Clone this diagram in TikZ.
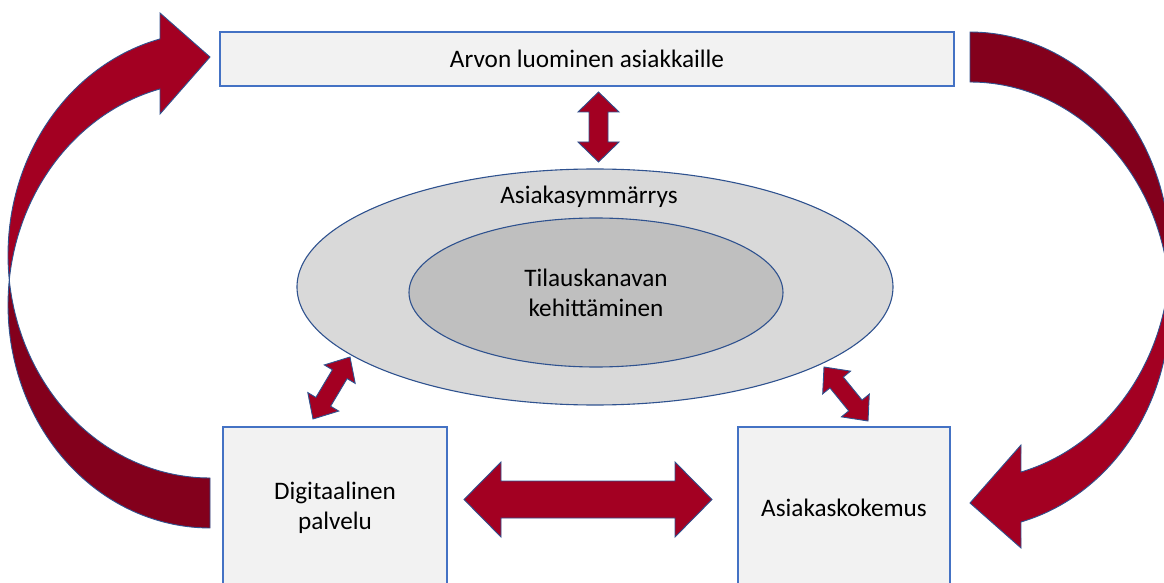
\documentclass[tikz,border=0pt]{standalone}
\usepackage{fontspec}
\setmainfont{Carlito}
\usetikzlibrary{calc,shapes.geometric}
\definecolor{brightred}{RGB}{163,0,34}
\definecolor{darkred}{RGB}{131,0,28}
\definecolor{arrline}{RGB}{47,82,143}
\definecolor{boxline}{RGB}{68,114,196}
\definecolor{boxfill}{RGB}{242,242,242}
\definecolor{outerfill}{RGB}{217,217,217}
\definecolor{innerfill}{RGB}{191,191,191}
% double block arrow between two tips: #1,#2 tips; #3 head length; #4 head half width; #5 shaft half width
\newcommand\dblarr[5]{%
  \coordinate (h1) at ($(#1)!#3!(#2)$);
  \coordinate (h2) at ($(#2)!#3!(#1)$);
  \path[blockarr] (#1) -- ($(h1)!#4!90:(#2)$) -- ($(h1)!#5!90:(#2)$)
    -- ($(h2)!#5!-90:(#1)$) -- ($(h2)!#4!-90:(#1)$) -- (#2)
    -- ($(h2)!#4!90:(#1)$) -- ($(h2)!#5!90:(#1)$)
    -- ($(h1)!#5!-90:(#2)$) -- ($(h1)!#4!-90:(#2)$) -- cycle;
}
\begin{document}
\begin{tikzpicture}[x=0.5pt,y=-0.5pt,
  every node/.style={font=\fontsize{12.6}{15}\selectfont, text=black},
  box/.style={draw=boxline, fill=boxfill, line width=0.6pt, rectangle, inner sep=0pt},
  ell/.style={draw=arrline, line width=0.55pt, ellipse, inner sep=0pt},
  blockarr/.style={fill=brightred, draw=arrline, line width=0.45pt, line join=miter},
  backarr/.style={fill=darkred, draw=arrline, line width=0.45pt},
]
\useasboundingbox (0,0) rectangle (1164,583);

% boxes and ellipses
\node[box, minimum width=367pt, minimum height=27pt] (top) at (587,59) {Arvon luominen asiakkaille};
\node[ell, fill=outerfill, minimum width=298pt, minimum height=118pt] (outer) at (595,287) {};
\node[ell, fill=innerfill, minimum width=187pt, minimum height=74.5pt] (inner) at (596,292.5) {};
\node[align=center] (innertext) at (596,293) {Tilauskanavan\\kehittäminen};
\node (outertext) at (589,197) {Asiakasymmärrys};
\node[box, align=center, minimum width=112pt, minimum height=81pt] (dig) at (335,508) {Digitaalinen\\palvelu};
\node[box, minimum width=106pt, minimum height=81pt] (kok) at (844,508) {Asiakaskokemus};

% double block arrows
\coordinate (va) at (598.5,92);  \coordinate (vb) at (598.5,162);
\dblarr{va}{vb}{10pt}{10.25pt}{4.75pt}
\coordinate (ha) at (464,499.5); \coordinate (hb) at (712,499.5);
\dblarr{ha}{hb}{18.5pt}{18.75pt}{9.25pt}
\coordinate (la) at (350,357);   \coordinate (lb) at (313,419);
\dblarr{la}{lb}{10pt}{9pt}{4.3pt}
\coordinate (ra) at (824,367);   \coordinate (rb) at (868,421);
\dblarr{ra}{rb}{10pt}{9pt}{4.3pt}

% left curved arrow (from Digitaalinen palvelu up to the top box)
\path[backarr] plot[domain=186.44:90, samples=60, variable=\t] ({210+202*cos(\t)},{305+223*sin(\t)})
  -- plot[domain=90:173.56, samples=60, variable=\t] ({210+202*cos(\t)},{255+223*sin(\t)}) -- cycle;
\path[blockarr] plot[domain=255.67:173.56, samples=60, variable=\t] ({210+202*cos(\t)},{255+223*sin(\t)})
  -- plot[domain=186.44:255.67, samples=60, variable=\t] ({210+202*cos(\t)},{305+223*sin(\t)})
  -- (160,114) -- (210,57) -- (160,13) -- cycle;

% right curved arrow (from the top box down to Asiakaskokemus)
\path[backarr] plot[domain=270:366.42, samples=60, variable=\t] ({970+200*cos(\t)},{255.7+223.7*sin(\t)})
  -- plot[domain=353.58:270, samples=60, variable=\t] ({970+200*cos(\t)},{305.7+223.7*sin(\t)}) -- cycle;
\path[blockarr] plot[domain=-6.42:75.23, samples=60, variable=\t] ({970+200*cos(\t)},{305.7+223.7*sin(\t)})
  -- (1021,548) -- (970,503) -- (1021,445)
  -- plot[domain=75.23:6.42, samples=60, variable=\t] ({970+200*cos(\t)},{255.7+223.7*sin(\t)}) -- cycle;
\end{tikzpicture}
\end{document}
